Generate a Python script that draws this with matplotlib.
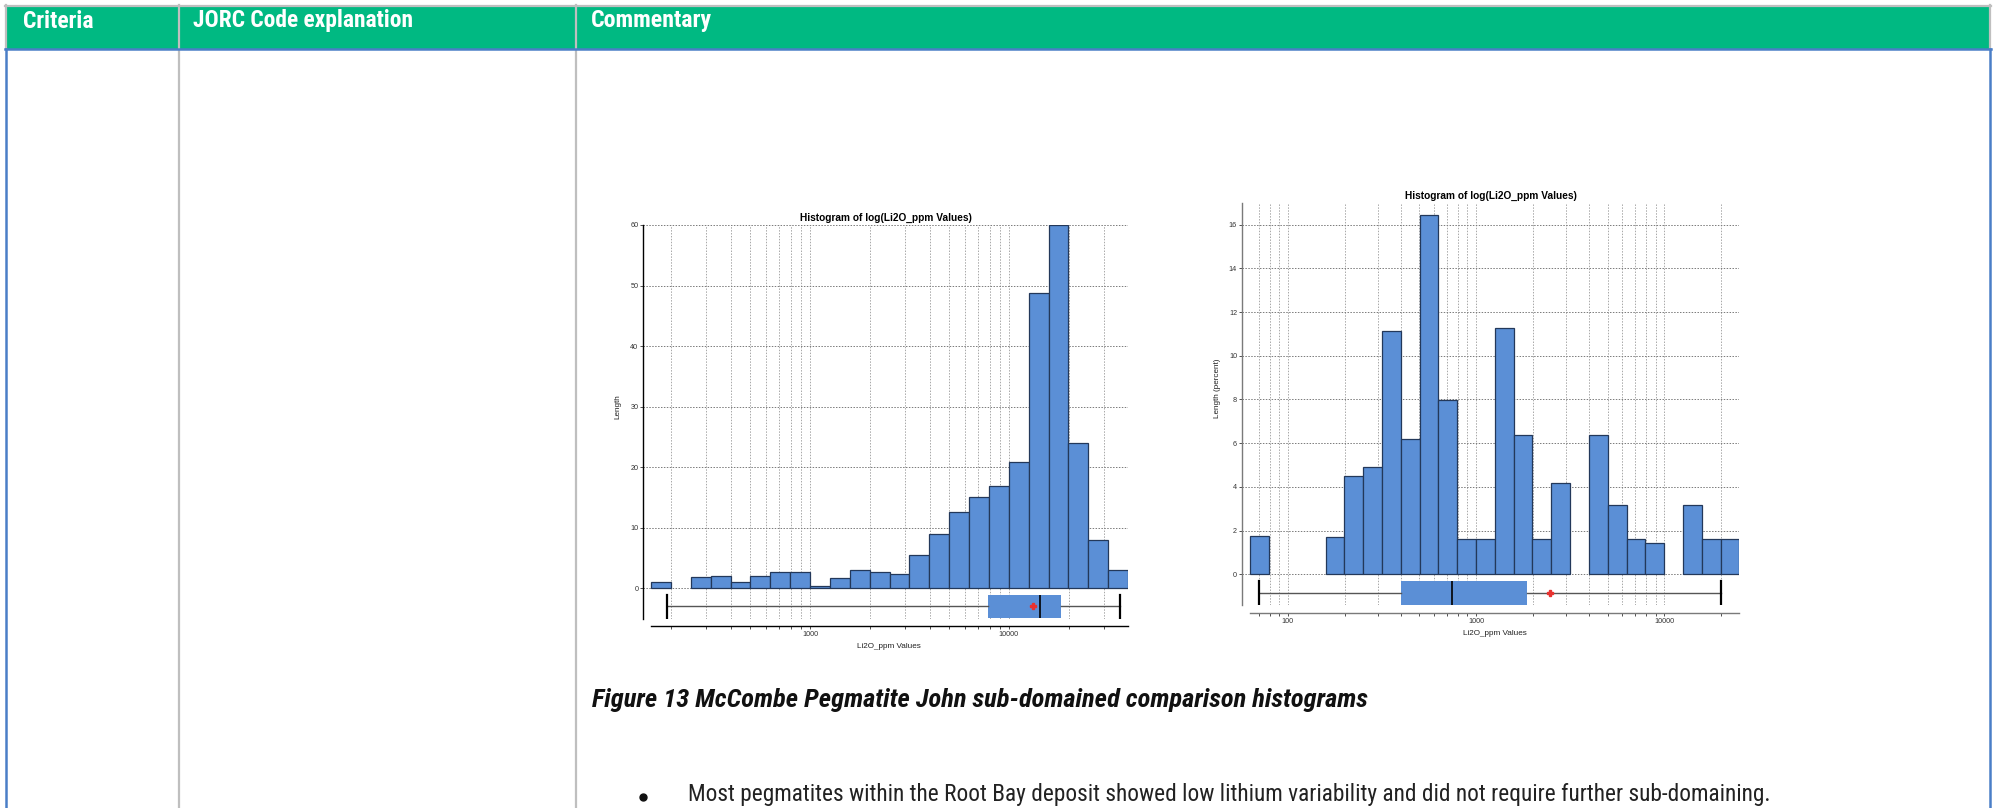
import matplotlib
matplotlib.use("Agg")
import matplotlib.pyplot as plt
from matplotlib import font_manager as fm
from matplotlib.patches import Rectangle
from matplotlib.ticker import NullFormatter, FixedLocator

W, H = 1995, 808

# ---- data ----
# left histogram: bin starts (log10 ppm), bin height = length
left_lo = [2.2, 2.3, 2.4, 2.5, 2.6, 2.7, 2.8, 2.9, 3.0, 3.1, 3.2, 3.3,
           3.4, 3.5, 3.6, 3.7, 3.8, 3.9, 4.0, 4.1, 4.2, 4.3, 4.4, 4.5]
left_len = [1.0, 0, 1.9, 2.0, 1.0, 2.0, 2.75, 2.65, 0.35, 1.65, 3.0, 2.65,
            2.3, 5.5, 9.0, 12.55, 15.0, 16.85, 20.8, 48.7, 60.0, 24.05, 8.0, 3.0]
# whisker low, q1, median, q3, whisker high, mean (ppm)
left_box = [190, 7900, 14350, 18300, 36200, 13300]

# right histogram: length in percent
right_lo = [1.8, 1.9, 2.0, 2.1, 2.2, 2.3, 2.4, 2.5, 2.6, 2.7, 2.8, 2.9, 3.0,
            3.1, 3.2, 3.3, 3.4, 3.5, 3.6, 3.7, 3.8, 3.9, 4.0, 4.1, 4.2, 4.3]
right_pct = [1.75, 0, 0, 0, 1.69, 4.48, 4.89, 11.14, 6.17, 16.42, 7.96, 1.6, 1.6,
             11.25, 6.36, 1.6, 4.16, 0, 6.36, 3.19, 1.6, 1.42, 0, 3.19, 1.6, 1.6]
right_box = [70, 399, 748, 1866, 20000, 2484]

headers = ["Criteria", "JORC Code explanation", "Commentary"]
caption = "Figure 13 McCombe Pegmatite John sub-domained comparison histograms"
bullet = ("Most pegmatites within the Root Bay deposit showed low lithium "
          "variability and did not require further sub-domaining.")
chart_title = "Histogram of log(Li2O_ppm Values)"
xlab = "Li2O_ppm Values"

# ---- fonts ----
names = {f.name for f in fm.fontManager.ttflist}
narrow = "Roboto"
for n in ["Liberation Sans Narrow", "Roboto Condensed", "Open Sans Condensed"]:
    if n in names:
        narrow = n
        break
chart_font = "Liberation Sans" if "Liberation Sans" in names else "DejaVu Sans"
plt.rcParams["font.family"] = [chart_font, "DejaVu Sans"]

GREEN = "#00B982"
BLUE_LINE = "#4A7EC7"
GRAY_LINE = "#BFBFBF"
BAR = "#5B8FD6"
BAR_EDGE = "#23385A"

fig = plt.figure(figsize=(W / 100, H / 100), dpi=100)

# ---- the table around the charts, drawn in pixel space ----
bg = fig.add_axes([0, 0, 1, 1])
bg.set_xlim(0, W)
bg.set_ylim(H, 0)
bg.axis("off")
bg.add_patch(Rectangle((6, 6), 1984, 43, color=GREEN, lw=0))
bg.plot([5, 1991], [5.5, 5.5], color=GRAY_LINE, lw=1.6)
bg.plot([6, 6], [5, 49], color=GRAY_LINE, lw=1.6)
bg.plot([1990, 1990], [5, 49], color=GRAY_LINE, lw=1.6)
for cx in [178.5, 575.5]:
    bg.plot([cx, cx], [5, H], color=GRAY_LINE, lw=1.6)
bg.plot([5, 1991], [49, 49], color=BLUE_LINE, lw=1.8)
bg.plot([6, 6], [49, H], color=BLUE_LINE, lw=1.8)
bg.plot([1990, 1990], [49, H], color=BLUE_LINE, lw=1.8)
# bullet point
bg.plot([643], [796.5], marker="o", ms=5, color="#111111", lw=0)

renderer = fig.canvas.get_renderer()


def fit_text(x, y, s, width_px, **kw):
    t = fig.text(x / W, 1 - y / H, s, fontsize=12, ha="left", va="baseline", **kw)
    w = t.get_window_extent(renderer).width
    t.set_fontsize(12 * width_px / w)
    return t


for hx, hw, s in zip([23, 193, 591], [71, 220, 121], headers):
    fit_text(hx, 27.5, s, hw, color="white", fontweight="bold", family=[narrow, "DejaVu Sans"])

fit_text(591.5, 706.5, caption, 776, fontweight="bold", fontstyle="italic",
         color="#111111", family=[narrow, "DejaVu Sans"])
fit_text(688, 801.5, bullet, 1083, color="#222222", family=[narrow, "DejaVu Sans"])


def panel(rect_px, lo, vals, box, ylim, yticks, ylabel, xticks, xpad_px,
          x_from, spine_col, box_pos, box_w, lab_xy, ylab_xy):
    x0, x1, ytop, ybot = rect_px
    ax = fig.add_axes([x0 / W, 1 - ybot / H, (x1 - x0) / W, (ybot - ytop) / H])
    ax.set_xscale("log")
    for e, v in zip(lo, vals):
        if v > 0:
            ax.bar(10 ** e, v, width=10 ** (e + 0.1) - 10 ** e, align="edge",
                   color=BAR, edgecolor=BAR_EDGE, linewidth=0.9, zorder=3)
    stats = [dict(whislo=box[0], q1=box[1], med=box[2], q3=box[3],
                  whishi=box[4], mean=box[5])]
    ax.bxp(stats, positions=[box_pos], widths=box_w, capwidths=box_w,
           orientation="horizontal", showmeans=True, showfliers=False,
           patch_artist=True,
           boxprops=dict(facecolor=BAR, edgecolor="none", linewidth=0),
           medianprops=dict(color="black", linewidth=1.2),
           whiskerprops=dict(color="#555555", linewidth=1.0),
           capprops=dict(color="black", linewidth=1.6),
           meanprops=dict(marker="P", markerfacecolor="#E8322F",
                          markeredgecolor="#E8322F", markersize=4.5),
           zorder=4)
    xmin, xmax = 10 ** lo[0], 10 ** (lo[-1] + 0.1)
    ax.set_xlim(10 ** x_from, xmax)
    ax.set_ylim(*ylim)
    ax.set_yticks(yticks)
    ax.set_yticklabels([str(t) for t in yticks])
    ax.set_xticks(xticks)
    ax.set_xticklabels([str(t) for t in xticks])
    minors = [m * 10 ** d for d in range(1, 5) for m in range(2, 10)
              if xmin <= m * 10 ** d <= xmax]
    ax.xaxis.set_minor_locator(FixedLocator(minors))
    ax.xaxis.set_minor_formatter(NullFormatter())
    ax.set_axisbelow(True)
    ax.grid(True, which="both", axis="x", linestyle=(0, (1.5, 1.5)),
            color="#A8A8A8", linewidth=0.7)
    ax.grid(True, which="major", axis="y", linestyle=(0, (1.5, 1.5)),
            color="#7A7A7A", linewidth=0.7)
    for s in ["top", "right"]:
        ax.spines[s].set_visible(False)
    ax.spines["left"].set_color(spine_col)
    ax.spines["bottom"].set_color(spine_col)
    ax.spines["left"].set_linewidth(1.0)
    ax.spines["bottom"].set_linewidth(1.0)
    ax.spines["bottom"].set_position(("outward", xpad_px * 0.72))
    ax.spines["bottom"].set_bounds(xmin, xmax)
    ax.tick_params(axis="both", which="both", labelsize=5.2, length=2.2,
                   width=0.6, pad=1.2, color="#333333", labelcolor="#333333")
    ax.set_title(chart_title, fontsize=7.3, fontweight="bold", pad=3.0)
    ax.set_xlabel(xlab, fontsize=5.9, color="#222222")
    ax.set_ylabel(ylabel, fontsize=5.9, color="#222222")
    ax.xaxis.set_label_coords(*lab_xy)
    ax.yaxis.set_label_coords(*ylab_xy)
    return ax


panel((643, 1128, 225, 618.6), left_lo, left_len, left_box, (-5, 60),
      [0, 10, 20, 30, 40, 50, 60], "Length", [1000, 10000], 7.5, 2.159,
      "black", -3.0, 3.8, (0.507, -0.062), (-0.045, 0.538))

panel((1241.8, 1739.4, 202.7, 605), right_lo, right_pct, right_box, (-1.4, 17),
      [0, 2, 4, 6, 8, 10, 12, 14, 16], "Length (percent)", [100, 1000, 10000],
      8.3, 1.755, "#7A7A7A", -0.85, 1.08, (0.508, -0.063), (-0.042, 0.539))

fig.savefig("out.png", dpi=100)
